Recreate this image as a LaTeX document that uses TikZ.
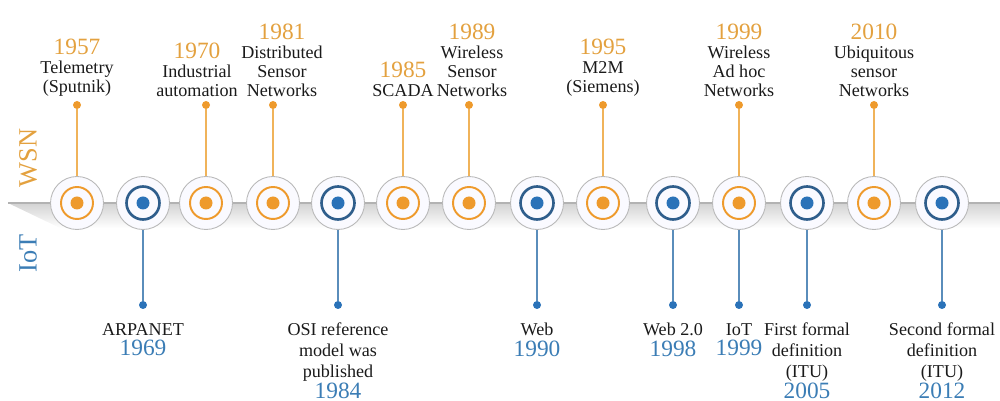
\documentclass[tikz,border=0pt]{standalone}
\usepackage{fontspec}
\setmainfont{Liberation Serif}
\usetikzlibrary{positioning}
\definecolor{wsnorange}{HTML}{EE9A2C}
\definecolor{wsnyellow}{HTML}{E3A13F}
\definecolor{wsnlight}{HTML}{F0B35A}
\definecolor{iotblue}{HTML}{2A72B8}
\definecolor{iotdark}{HTML}{2F5E8C}
\definecolor{iotlight}{HTML}{5A8DBB}
\definecolor{iotyear}{HTML}{3B7DB5}
\definecolor{labelgray}{HTML}{1A1A1A}
\tikzset{
  ring/.style={circle, draw=gray!55, line width=0.5pt, fill=blue!2, minimum size=1.06cm, inner sep=0pt},
  wsnmark/.style={ring, path picture={
      \draw[wsnorange, line width=1.1pt] (path picture bounding box.center) circle (0.32cm);
      \fill[wsnorange] (path picture bounding box.center) circle (0.13cm);}},
  iotmark/.style={ring, path picture={
      \draw[iotdark, line width=1.5pt] (path picture bounding box.center) circle (0.33cm);
      \fill[iotblue] (path picture bounding box.center) circle (0.13cm);}},
  wsnpin/.style={circle, fill=wsnorange, minimum size=0.16cm, inner sep=0pt},
  iotpin/.style={circle, fill=iotblue, minimum size=0.16cm, inner sep=0pt},
  wsnline/.style={wsnlight, line width=0.6pt},
  iotline/.style={iotlight, line width=0.6pt},
  eventtext/.style={align=center, inner sep=0pt, text=labelgray},
  wsntext/.style={eventtext, font=\fontsize{10.3}{10.9}\selectfont, above=2pt of #1},
  iottext/.style={eventtext, font=\fontsize{10.3}{11.8}\selectfont, below=0.27cm of #1},
  axislabel/.style={rotate=90, font=\fontsize{15}{15}\selectfont}
}
\newcommand{\wsnyear}[1]{{\color{wsnyellow}\fontsize{13.3}{10.9}\selectfont #1}}
\newcommand{\iotyear}[1]{{\color{iotyear}\fontsize{13.3}{11.8}\selectfont #1}}

\begin{document}
\begin{tikzpicture}[x=0.02cm,y=-0.02cm]
\useasboundingbox (0,0) rectangle (1000,401);

\shade[top color=gray!35, bottom color=white] (8,203) -- (1000,203) -- (1000,228) -- (60,228) -- cycle;
\coordinate (axisstart) at (8,203);
\coordinate (axisend) at (1000,203);
\draw[gray!60, line width=0.6pt] (axisstart) -- (axisend);

\node[axislabel, text=wsnyellow] (wsn) at (28,158) {WSN};
\node[axislabel, text=iotyear] (iot) at (28,253) {IoT};

\node[wsnmark] (c1957) at (77,203) {};
\node[iotmark] (c1969) at (143,203) {};
\node[wsnmark] (c1970) at (206,203) {};
\node[wsnmark] (c1981) at (273,203) {};
\node[iotmark] (c1984) at (338,203) {};
\node[wsnmark] (c1985) at (403,203) {};
\node[wsnmark] (c1989) at (469,203) {};
\node[iotmark] (c1990) at (537,203) {};
\node[wsnmark] (c1995) at (603,203) {};
\node[iotmark] (c1998) at (673,203) {};
\node[wsnmark] (c1999) at (739,203) {};
\node[iotmark] (c2005) at (807,203) {};
\node[wsnmark] (c2010) at (874,203) {};
\node[iotmark] (c2012) at (942,203) {};

\node[wsnpin] (p1957) at (77,105) {};
\node[wsnpin] (p1970) at (206,105) {};
\node[wsnpin] (p1981) at (273,105) {};
\node[wsnpin] (p1985) at (403,105) {};
\node[wsnpin] (p1989) at (469,105) {};
\node[wsnpin] (p1995) at (603,105) {};
\node[wsnpin] (p1999w) at (739,105) {};
\node[wsnpin] (p2010) at (874,105) {};

\node[iotpin] (p1969) at (143,305) {};
\node[iotpin] (p1984) at (338,305) {};
\node[iotpin] (p1990) at (537,305) {};
\node[iotpin] (p1998) at (673,305) {};
\node[iotpin] (p1999i) at (739,305) {};
\node[iotpin] (p2005) at (807,305) {};
\node[iotpin] (p2012) at (942,305) {};

\draw[wsnline] (c1957) -- (p1957);
\draw[wsnline] (c1970) -- (p1970);
\draw[wsnline] (c1981) -- (p1981);
\draw[wsnline] (c1985) -- (p1985);
\draw[wsnline] (c1989) -- (p1989);
\draw[wsnline] (c1995) -- (p1995);
\draw[wsnline] (c1999) -- (p1999w);
\draw[wsnline] (c2010) -- (p2010);

\draw[iotline] (c1969) -- (p1969);
\draw[iotline] (c1984) -- (p1984);
\draw[iotline] (c1990) -- (p1990);
\draw[iotline] (c1998) -- (p1998);
\draw[iotline] (c1999) -- (p1999i);
\draw[iotline] (c2005) -- (p2005);
\draw[iotline] (c2012) -- (p2012);

\node[wsntext=p1957] (t1957) {\wsnyear{1957}\\Telemetry\\(Sputnik)};
\node[wsntext=p1970, xshift=-0.18cm] (t1970) {\wsnyear{1970}\\Industrial\\automation};
\node[wsntext=p1981, xshift=0.18cm] (t1981) {\wsnyear{1981}\\Distributed\\Sensor\\Networks};
\node[wsntext=p1985] (t1985) {\wsnyear{1985}\\SCADA};
\node[wsntext=p1989, xshift=0.06cm] (t1989) {\wsnyear{1989}\\Wireless\\Sensor\\Networks};
\node[wsntext=p1995] (t1995) {\wsnyear{1995}\\M2M\\(Siemens)};
\node[wsntext=p1999w] (t1999w) {\wsnyear{1999}\\Wireless\\Ad hoc\\Networks};
\node[wsntext=p2010] (t2010) {\wsnyear{2010}\\Ubiquitous\\sensor\\Networks};

\node[iottext=p1969] (t1969) {ARPANET\\\iotyear{1969}};
\node[iottext=p1984] (t1984) {OSI reference\\model was\\published\\\iotyear{1984}};
\node[iottext=p1990] (t1990) {Web\\\iotyear{1990}};
\node[iottext=p1998] (t1998) {Web 2.0\\\iotyear{1998}};
\node[iottext=p1999i] (t1999i) {IoT\\\iotyear{1999}};
\node[iottext=p2005] (t2005) {First formal\\definition\\(ITU)\\\iotyear{2005}};
\node[iottext=p2012] (t2012) {Second formal\\definition\\(ITU)\\\iotyear{2012}};
\end{tikzpicture}
\end{document}
